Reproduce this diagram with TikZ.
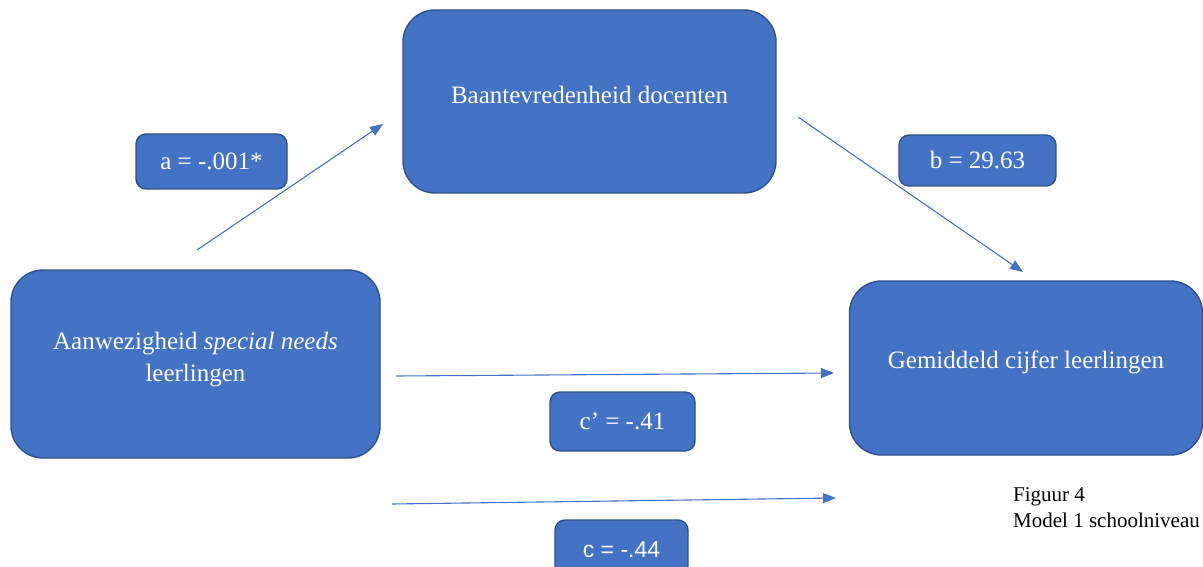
\documentclass[tikz,border=0pt]{standalone}
\usepackage{fontspec}
\setmainfont{Liberation Serif}
\newfontfamily\arialfont{Liberation Sans}
\usetikzlibrary{arrows.meta}
\definecolor{boxblue}{HTML}{4472C4}
\definecolor{boxedge}{HTML}{2F528F}

\begin{document}
\begin{tikzpicture}[
          x = 1pt, y = -1pt, inner sep = 0,
          font = \fontsize{25}{32}\selectfont
        ]
          \tikzstyle {varbox} = [draw = boxedge, line width = 1.4pt, fill = boxblue, text = white, rounded corners = 32pt, align = center]
          \tikzstyle {coefbox} = [draw = boxedge, line width = 1.4pt, fill = boxblue, text = white, rounded corners = 10pt]
          \tikzstyle {effect} = [draw = boxblue, line width = 1.1pt, -{Triangle[length = 13pt, width = 10pt]}]
          \clip (0,0) rectangle (1203,567);
          % place nodes
          \path node (med) [varbox, minimum width = 373, minimum height = 183, text height = 17pt, text depth = 12pt] at (589.5,101.5) {Baantevredenheid docenten};
          \path node (x) [varbox, minimum width = 369, minimum height = 188, text depth = 14pt] at (195.5,364) {Aanwezigheid \textit{special needs}\\leerlingen};
          \path node (y) [varbox, minimum width = 353, minimum height = 174, text height = 16pt, text depth = 15pt] at (1026,368) {Gemiddeld cijfer leerlingen};
          \path node (la) [coefbox, minimum width = 151, minimum height = 55] at (211.5,161.5) {a = -.001*};
          \path node (lb) [coefbox, minimum width = 157, minimum height = 51] at (977.5,160.5) {b = 29.63};
          \path node (lcp) [coefbox, minimum width = 145, minimum height = 59] at (622.5,421.5) {c’ = -.41};
          \path node (lc) [coefbox, minimum width = 133, minimum height = 60, font = \arialfont\fontsize{23}{28}\selectfont] at (621.5,550) {c = -.44};
          \path node (caption) [anchor = north west, align = left, font = \fontsize{21}{26}\selectfont] at (1013,487) {Figuur 4\\Model 1 schoolniveau};
          % arrow ends
          \coordinate (a0) at (197,250);
          \coordinate (a1) at (383,124);
          \coordinate (b0) at (798,117);
          \coordinate (b1) at (1023,272);
          \coordinate (cp0) at (396,376);
          \coordinate (cp1) at (834,373);
          \coordinate (c0) at (392,504);
          \coordinate (c1) at (836,498);
          % place edges
          \foreach \from/\to in {a0/a1, b0/b1, cp0/cp1, c0/c1}
            { \draw [effect] (\from) -- (\to) ; } ;
        \end{tikzpicture}
\end{document}
